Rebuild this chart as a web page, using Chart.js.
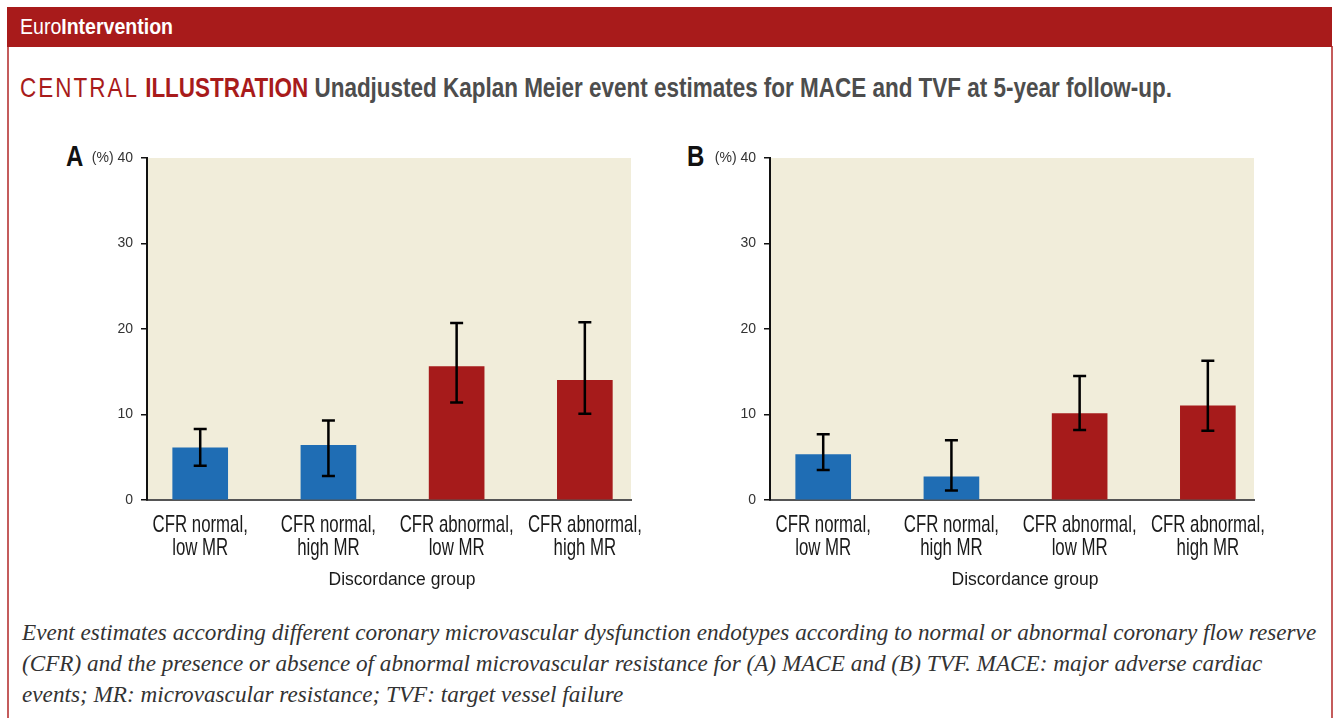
<!DOCTYPE html>
<html>
<head>
<meta charset="utf-8">
<script src="https://cdn.jsdelivr.net/npm/chart.js@4"></script>
<style>
  html, body { margin: 0; padding: 0; background: #fff; }
  body { width: 1342px; height: 718px; position: relative; overflow: hidden; font-family: "Liberation Sans", Arial, sans-serif; }
  #frame { position: absolute; left: 7px; top: 46px; width: 1322px; height: 680px;
           border-left: 2px solid #c45c5c; border-right: 2px solid #c45c5c; }
  #header { position: absolute; left: 7px; top: 7px; width: 1325px; height: 40px; background: #a81b1b;
            color: #fff; font-size: 22px; line-height: 40px; }
  .fit { position: absolute; white-space: nowrap; transform-origin: 0 50%; display: inline-block; }
  #head { left: 13px; top: 0; }
  #title { left: 20px; top: 70px; font-size: 28px; line-height: 36px; }
  #title .c { color: #a81b1b; letter-spacing: 2.5px; }
  #title .i { color: #a81b1b; font-weight: bold; }
  #title .r { color: #4d4d4d; font-weight: bold; }
  .panel { position: absolute; font-size: 30px; font-weight: bold; color: #111; line-height: 30px;
           transform: scaleX(0.8); transform-origin: 0 50%; }
  canvas { position: absolute; }
  #caption { position: absolute; left: 22px; top: 617px; width: 1310px; font-family: "Liberation Serif", "DejaVu Serif", serif;
             font-style: italic; font-size: 23.2px; line-height: 31px; color: #333; white-space: nowrap; }
</style>
</head>
<body>
<div id="frame"></div>
<div id="header"><span id="head" class="fit">Euro<b>Intervention</b></span></div>
<div id="title" class="fit"><span class="c">CENTRAL</span> <span class="i">ILLUSTRATION</span> <span class="r">Unadjusted Kaplan Meier event estimates for MACE and TVF at 5-year follow-up.</span></div>
<div class="panel" style="left:66px; top:141px;">A</div>
<div class="panel" style="left:687px; top:141px;">B</div>
<canvas id="chartA" width="660" height="460" style="left:0px; top:140px;"></canvas>
<canvas id="chartB" width="660" height="460" style="left:623px; top:140px;"></canvas>
<div id="caption">Event estimates according different coronary microvascular dysfunction endotypes according to normal or abnormal coronary flow reserve<br>(CFR) and the presence or absence of abnormal microvascular resistance for (A) MACE and (B) TVF. MACE: major adverse cardiac<br>events; MR: microvascular resistance; TVF: target vessel failure</div>
<script>
// data
var categories = [["CFR normal,", "low MR"], ["CFR normal,", "high MR"], ["CFR abnormal,", "low MR"], ["CFR abnormal,", "high MR"]];
var maceValues = [6.1, 6.4, 15.6, 14.0];
var maceLower = [4.0, 2.8, 11.4, 10.1];
var maceUpper = [8.3, 9.3, 20.7, 20.8];
var tvfValues = [5.3, 2.7, 10.1, 11.0];
var tvfLower = [3.5, 1.1, 8.2, 8.1];
var tvfUpper = [7.7, 7.0, 14.5, 16.3];
var yTicks = [0, 10, 20, 30, 40];
var barColors = ["#1f6db4", "#1f6db4", "#a61b1b", "#a61b1b"];
var xTitle = "Discordance group";

var sans = '"Liberation Sans", Arial, sans-serif';

// squeeze header / title text to the reference widths (condensed look)
function fitWidth(id, target) {
    var el = document.getElementById(id);
    var w = el.getBoundingClientRect().width;
    el.style.transform = "scaleX(" + (target / w) + ")";
}
fitWidth("head", 153);
fitWidth("title", 1152);

// cream plot background
var plotBg = {
    id: "plotBg",
    beforeDraw: function (chart) {
        var a = chart.chartArea, c = chart.ctx;
        c.save();
        c.fillStyle = "#f1edda";
        c.fillRect(a.left, a.top, a.right - a.left, a.bottom - a.top);
        c.restore();
    },
};

// error bars drawn through the scales
var errorBars = {
    id: "errorBars",
    afterDatasetsDraw: function (chart, args, opts) {
        var c = chart.ctx, xs = chart.scales.x, ys = chart.scales.y;
        c.save();
        c.strokeStyle = "#000";
        c.lineWidth = 2.5;
        for (var i = 0; i < opts.low.length; i++) {
            var x = xs.getPixelForValue(i);
            var yl = ys.getPixelForValue(opts.low[i]);
            var yh = ys.getPixelForValue(opts.high[i]);
            c.beginPath();
            c.moveTo(x, yl); c.lineTo(x, yh);
            c.moveTo(x - 6.5, yl); c.lineTo(x + 6.5, yl);
            c.moveTo(x - 6.5, yh); c.lineTo(x + 6.5, yh);
            c.stroke();
        }
        c.restore();
    },
};

// condensed two-line category labels + axis title
var xLabels = {
    id: "xLabels",
    afterDraw: function (chart) {
        var c = chart.ctx, xs = chart.scales.x, a = chart.chartArea;
        c.save();
        c.fillStyle = "#1a1a1a";
        c.textAlign = "center";
        c.textBaseline = "alphabetic";
        c.font = "24px " + sans;
        for (var i = 0; i < categories.length; i++) {
            var x = xs.getPixelForValue(i);
            for (var j = 0; j < categories[i].length; j++) {
                c.save();
                c.translate(x, a.bottom + 32 + j * 22.5);
                c.scale(0.7, 1);
                c.fillText(categories[i][j], 0, 0);
                c.restore();
            }
        }
        c.font = "17.5px " + sans;
        c.fillText(xTitle, (a.left + a.right) / 2 + 13, a.bottom + 85);
        c.restore();
    },
};

function makeChart(id, values, low, high) {
    var ctx = document.getElementById(id).getContext("2d");
    return new Chart(ctx, {
        type: "bar",
        data: {
            datasets: [
                {
                    data: values.map(function (v, i) { return { x: i, y: v }; }),
                    backgroundColor: barColors,
                    barThickness: 55,
                },
            ],
        },
        plugins: [plotBg, errorBars, xLabels],
        options: {
            responsive: false,
            animation: false,
            layout: { padding: { top: 18, right: 29, left: 0, bottom: 0 } },
            plugins: {
                legend: { display: false },
                tooltip: { enabled: false },
                errorBars: { low: low, high: high },
            },
            scales: {
                x: {
                    type: "linear",
                    offset: false,
                    min: -0.415,
                    max: 3.36,
                    afterBuildTicks: function (s) { s.ticks = [0, 1, 2, 3].map(function (v) { return { value: v }; }); },
                    afterFit: function (s) { s.height = 100; },
                    grid: { display: false },
                    border: { display: true, color: "#555", width: 2 },
                    ticks: { display: false },
                },
                y: {
                    min: 0,
                    max: 40,
                    afterBuildTicks: function (s) { s.ticks = yTicks.map(function (v) { return { value: v }; }); },
                    afterFit: function (s) { s.width = 147; },
                    grid: { drawOnChartArea: false, drawTicks: true, tickLength: 6, color: "#111", lineWidth: 1.5 },
                    border: { display: true, color: "#111", width: 2 },
                    ticks: {
                        padding: 8,
                        color: "#333",
                        font: { family: sans, size: 14 },
                        callback: function (v) { return v === 40 ? "(%) 40" : String(v); },
                    },
                },
            },
        },
    });
}

var chartA = makeChart("chartA", maceValues, maceLower, maceUpper);
var chartB = makeChart("chartB", tvfValues, tvfLower, tvfUpper);
</script>
</body>
</html>
